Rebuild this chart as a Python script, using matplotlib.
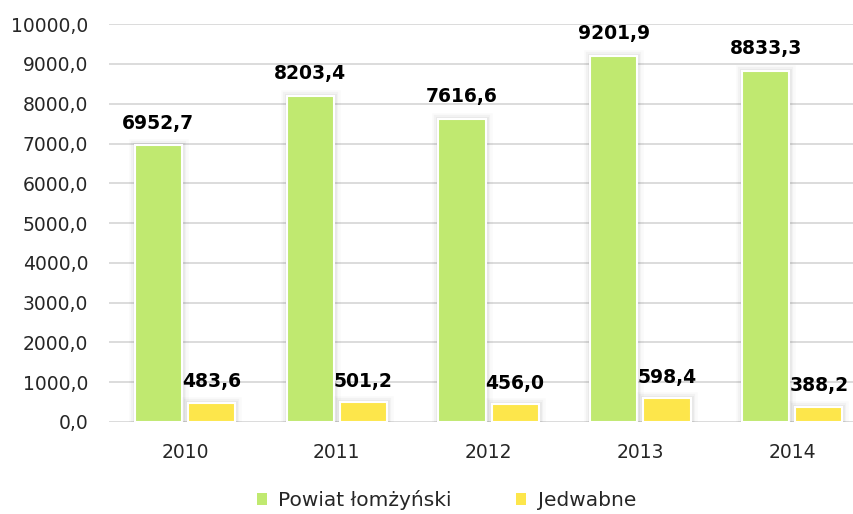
import numpy as np
import matplotlib.pyplot as plt
import matplotlib.patheffects as pe
from matplotlib.patches import Patch

years = ['2010', '2011', '2012', '2013', '2014']
powiat = [6952.7, 8203.4, 7616.6, 9201.9, 8833.3]
jedwabne = [483.6, 501.2, 456.0, 598.4, 388.2]

def fmt(v):
    return ('%.1f' % v).replace('.', ',')

plt.rcParams['font.family'] = ['DejaVu Sans']

fig = plt.figure(figsize=(8.54, 5.14), dpi=100)
ax = fig.add_axes([0.1276, 0.179, 0.889, 0.774])

x = np.arange(len(years))
w = 0.31
green = '#c0e970'
yellow = '#fde64b'
shadow = [pe.Stroke(linewidth=9, foreground='black', alpha=0.02),
          pe.Stroke(linewidth=6, foreground='black', alpha=0.03),
          pe.Stroke(linewidth=3.5, foreground='black', alpha=0.04),
          pe.Normal()]

b1 = ax.bar(x - 0.175, powiat, w, color=green, edgecolor='white', linewidth=1.5, zorder=3)
b2 = ax.bar(x + 0.175, jedwabne, w, color=yellow, edgecolor='white', linewidth=1.5, zorder=3)
for b in list(b1) + list(b2):
    b.set_path_effects(shadow)

for xi, v in zip(x, powiat):
    ax.annotate(fmt(v), (xi - 0.175, v), xytext=(0, 12), textcoords='offset points',
                ha='center', va='baseline', fontsize=13.5, fontweight='bold', color='black', zorder=4)
for xi, v in zip(x, jedwabne):
    ax.annotate(fmt(v), (xi + 0.175, v), xytext=(0, 11), textcoords='offset points',
                ha='center', va='baseline', fontsize=13.5, fontweight='bold', color='black', zorder=4)

ax.set_ylim(0, 10000)
ax.set_xlim(-0.5, 4.5)
ax.set_yticks(np.arange(0, 10001, 1000))
ax.set_yticklabels([fmt(t) for t in np.arange(0, 10001, 1000)])
ax.set_xticks(x)
ax.set_xticklabels(years)
ax.tick_params(axis='both', length=0, labelsize=13.5, colors='#262626')
ax.tick_params(axis='y', pad=15)
ax.tick_params(axis='x', pad=15)
ax.grid(axis='y', color='#d9d9d9', linewidth=1.3, zorder=0)
for s in ax.spines.values():
    s.set_visible(False)

handles = [Patch(facecolor=green, edgecolor='none', label='Powiat łomżyński'),
           Patch(facecolor=yellow, edgecolor='none', label='Jedwabne')]
leg = fig.legend(handles=handles, loc='center', bbox_to_anchor=(0.523, 0.027), ncol=2,
                 frameon=False, fontsize=14.5, handlelength=0.5, handleheight=0.5,
                 handletextpad=0.55, columnspacing=3.2)
for t in leg.get_texts():
    t.set_color('#262626')

fig.savefig('out.png', dpi=100)
